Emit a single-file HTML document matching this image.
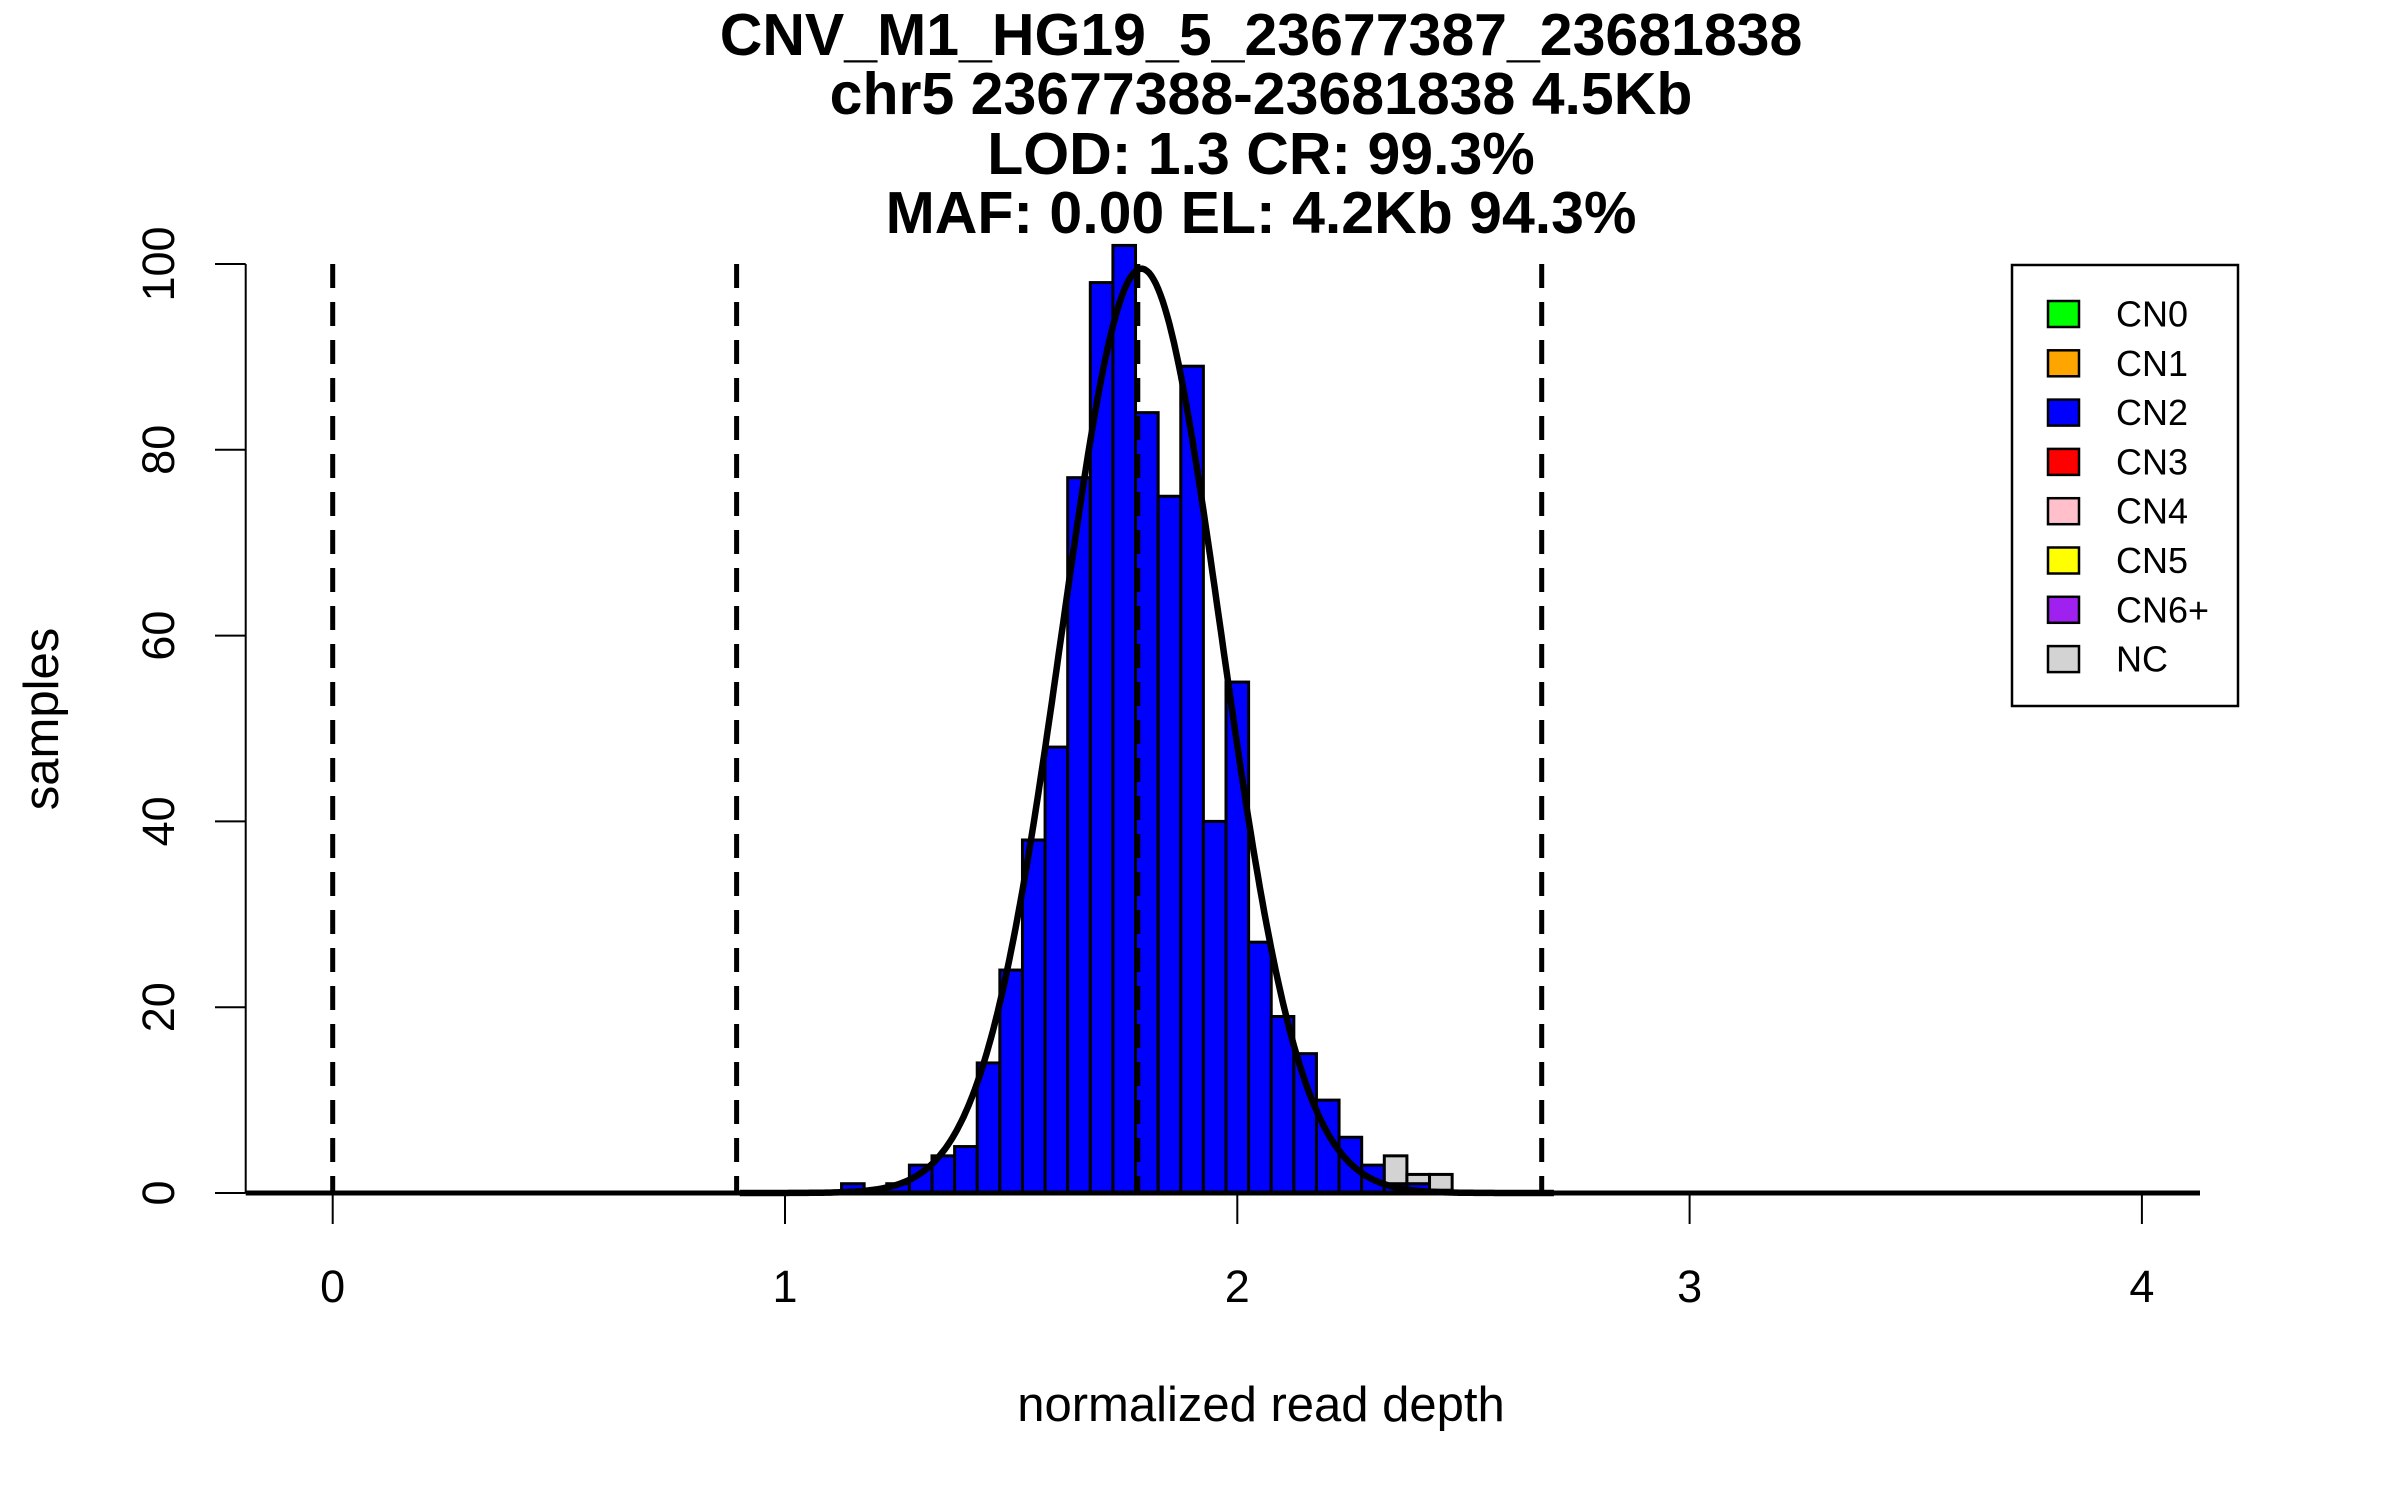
<!DOCTYPE html>
<html><head><meta charset="utf-8"><style>
html,body{margin:0;padding:0;background:#fff;}
svg{display:block;font-family:"Liberation Sans",sans-serif;}
</style></head><body>
<svg id="chart" width="2400" height="1500" viewBox="0 0 2400 1500">
<g id="titles" font-weight="bold" font-size="59" text-anchor="middle" fill="#000">
<text x="1261" y="55">CNV_M1_HG19_5_23677387_23681838</text>
<text x="1261" y="114">chr5 23677388-23681838 4.5Kb</text>
<text x="1261" y="174">LOD: 1.3 CR: 99.3%</text>
<text x="1261" y="233">MAF: 0.00 EL: 4.2Kb 94.3%</text>
</g>
<g id="bars"></g>
<g id="curve"></g>
<g id="vlines"></g>
<g id="axes"></g>
<text x="1261" y="1421" font-size="49" text-anchor="middle">normalized read depth</text>
<text transform="translate(58,719) rotate(-90)" font-size="49" text-anchor="middle">samples</text>
<g id="legend">
<rect x="2012" y="265" width="226" height="441" fill="#fff" stroke="#000" stroke-width="2.5"/>
</g>
</svg>
<script>
const binStarts = [1.125,1.175,1.225,1.275,1.325,1.375,1.425,1.475,1.525,1.575,1.625,1.675,1.725,1.775,1.825,1.875,1.925,1.975,2.025,2.075,2.125,2.175,2.225,2.275,2.325,2.375,2.425];
const cn2Counts = [1,0,1,3,4,5,14,24,38,48,77,98,102,84,75,89,40,55,27,19,15,10,6,3,1,1,0];
const cn3Counts = [0,0,0,0,0,0,0,0,0,0,0,0,0,0,0,0,0,0,0,0,0,0,0,0,0,0,0.3];
const ncCounts  = [0,0,0,0,0,0,0,0,0,0,0,0,0,0,0,0,0,0,0,0,0,0,0,0,3,1,1.7];
const binWidth = 0.05;
const fitMean = 1.788, fitSd = 0.176, fitPeak = 99.5;
const thresholds = [0, 0.893, 1.78, 2.673];
const xTicks = [0,1,2,3,4];
const yTicks = [0,20,40,60,80,100];
const legendLabels = ["CN0","CN1","CN2","CN3","CN4","CN5","CN6+","NC"];
const legendColors = ["#00ff00","#ffa500","#0000ff","#ff0000","#ffc0cb","#ffff00","#a020f0","#d3d3d3"];

const NS = "http://www.w3.org/2000/svg";
const X = v => 332.7 + v * 452.3;
const Y = v => 1193 - v * 9.29;
function mk(tag, attrs, parent){const e=document.createElementNS(NS,tag);for(const k in attrs)e.setAttribute(k,attrs[k]);parent.appendChild(e);return e;}

const bars = document.getElementById('bars');
binStarts.forEach((b,i)=>{
  let base = 0;
  [[cn2Counts[i],"#0000ff","bar-cn2"],[cn3Counts[i],"#8b0000","bar-cn3"],[ncCounts[i],"#d3d3d3","bar-nc"]].forEach(([c,col,nm])=>{
    if(c<=0) return;
    const r = mk('rect',{x:X(b),y:Y(base+c),width:X(b+binWidth)-X(b),height:Y(base)-Y(base+c),fill:col,stroke:"#000","stroke-width":3},bars);
    
    
    base += c;
  });
});

const bl = mk('line',{x1:245.7,y1:1193,x2:2200,y2:1193,stroke:"#000","stroke-width":5},document.getElementById('axes'));



let d="";
for(let v=0.9; v<=2.7; v+=0.005){
  const yv = fitPeak*Math.exp(-0.5*Math.pow((v-fitMean)/fitSd,2));
  d += (d?"L":"M")+X(v).toFixed(1)+","+Y(yv).toFixed(1);
}
const cp = mk('path',{d:d,fill:"none",stroke:"#000","stroke-width":6.5},document.getElementById('curve'));



const vl = document.getElementById('vlines');
thresholds.forEach(t=>{
  const l = mk('line',{x1:X(t),y1:264,x2:X(t),y2:1193,stroke:"#000","stroke-width":5,"stroke-dasharray":"24 14"},vl);
  
  
});

const ax = document.getElementById('axes');
const xa = mk('line',{x1:X(0),y1:1193,x2:X(4),y2:1193,stroke:"#000","stroke-width":2},ax);


xTicks.forEach(t=>{
  const tk = mk('line',{x1:X(t),y1:1193,x2:X(t),y2:1224,stroke:"#000","stroke-width":2},ax);
  
  
  const tx = mk('text',{x:X(t),y:1302,"font-size":45,"text-anchor":"middle"},ax);
  tx.textContent = t;
  
  
});
const ya = mk('line',{x1:245.7,y1:Y(0),x2:245.7,y2:Y(100),stroke:"#000","stroke-width":2},ax);


yTicks.forEach(t=>{
  const tk = mk('line',{x1:215,y1:Y(t),x2:245.7,y2:Y(t),stroke:"#000","stroke-width":2},ax);
  
  
  const tx = mk('text',{transform:`translate(174,${Y(t)}) rotate(-90)`,"font-size":45,"text-anchor":"middle"},ax);
  tx.textContent = t;
  
  
});

const lg = document.getElementById('legend');
legendLabels.forEach((lab,i)=>{
  const cy = 314 + i*49.3;
  const g = mk('g',{},lg);
  
  
  mk('rect',{x:2048,y:cy-13,width:31,height:26,fill:legendColors[i],stroke:"#000","stroke-width":2.5},g);
  const t = mk('text',{x:2116,y:cy+12.5,"font-size":36},g);
  t.textContent = lab;
});
</script>
</body></html>
